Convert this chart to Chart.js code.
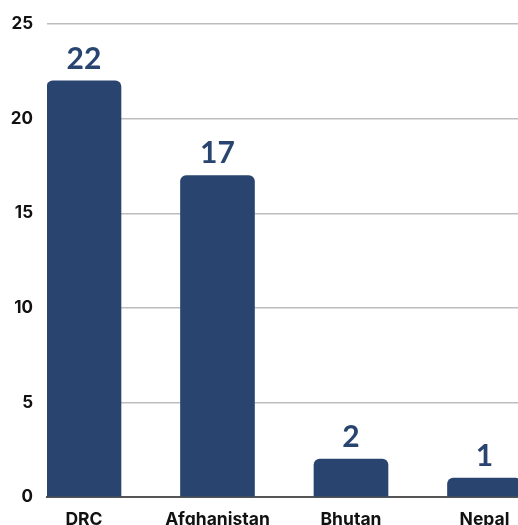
<!DOCTYPE html>
<html>
<head>
<meta charset="utf-8">
<script src="https://cdn.jsdelivr.net/npm/chart.js@4"></script>
<style>
  html, body { margin: 0; padding: 0; background: #fff; }
  #wrap { width: 518px; height: 525px; }
</style>
</head>
<body>
<div id="wrap"><canvas id="myChart"></canvas></div>
<script>
// data
const countries = ['DRC', 'Afghanistan', 'Bhutan', 'Nepal'];
const counts = [22, 17, 2, 1];
const yTicks = [0, 5, 10, 15, 20, 25];

const navy = '#29456f';

// draws the number above each bar
const valueLabels = {
    id: 'valueLabels',
    afterDatasetsDraw(chart) {
        const ctx = chart.ctx;
        const meta = chart.getDatasetMeta(0);
        ctx.save();
        ctx.font = 'bold 30px Lato';
        ctx.fillStyle = navy;
        ctx.textAlign = 'center';
        ctx.textBaseline = 'bottom';
        meta.data.forEach((bar, i) => {
            ctx.fillText(counts[i], bar.x, bar.y - 7);
        });
        ctx.restore();
    }
};

const ctx = document.getElementById('myChart').getContext('2d');
const chart = new Chart(ctx, {
    type: 'bar',
    data: {
        datasets: [{
            data: counts.map((v, i) => ({ x: i, y: v })),
            backgroundColor: navy,
            barThickness: 74,
            borderRadius: { topLeft: 6, topRight: 6 },
            borderSkipped: 'bottom'
        }]
    },
    options: {
        responsive: true,
        maintainAspectRatio: false,
        animation: false,
        layout: { padding: { top: 21, right: 0, left: 0, bottom: 0 } },
        plugins: {
            legend: { display: false },
            tooltip: { enabled: false }
        },
        scales: {
            x: {
                type: 'linear',
                offset: false,
                min: -0.277,
                max: 3.251,
                grid: { display: false, drawTicks: false, offset: false },
                border: { display: true, color: '#555', width: 2 },
                afterFit: (scale) => {
                    scale.height = 28;
                    scale.paddingLeft = 0;
                    scale.paddingRight = 0;
                },
                ticks: {
                    stepSize: 1,
                    includeBounds: false,
                    padding: 12,
                    color: '#111',
                    font: { family: 'Inter', weight: 'bold', size: 17.5 },
                    callback: (v) => countries[v] ?? ''
                }
            },
            y: {
                min: 0,
                max: 25,
                afterFit: (scale) => { scale.width = 47; },
                afterBuildTicks: (scale) => { scale.ticks = yTicks.map(v => ({ value: v })); },
                grid: { color: '#bdbdbd', lineWidth: 1.5, drawTicks: false },
                border: { display: false },
                ticks: {
                    padding: 14,
                    color: '#111',
                    font: { family: 'Inter', weight: 'bold', size: 17 }
                }
            }
        }
    },
    plugins: [valueLabels]
});
</script>
</body>
</html>
